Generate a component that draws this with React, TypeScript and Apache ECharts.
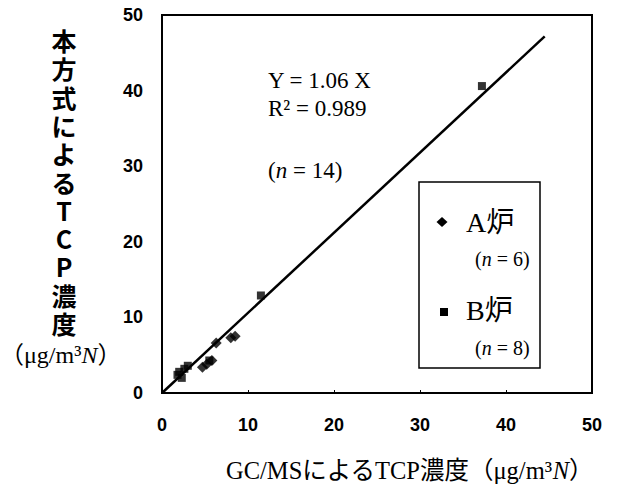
import React, { useEffect, useRef } from "react";
import * as echarts from "echarts";

// GC/MS value (x) vs this method value (y), µg/m3N
const furnaceA_x = [8.0, 8.5, 6.3, 4.7, 5.2, 5.8];
const furnaceA_y = [7.3, 7.5, 6.6, 3.4, 3.8, 4.3];
const furnaceB_x = [37.2, 11.5, 3.0, 2.0, 2.3, 1.8, 5.5, 2.6];
const furnaceB_y = [40.6, 12.9, 3.6, 2.8, 2.0, 2.4, 4.3, 3.2];
const SLOPE = 1.06;
const LINE_END_X = 44.5;
const AXIS_TICKS = [0, 10, 20, 30, 40, 50];
const Y_TITLE_CHARS = ["本", "方", "式", "に", "よ", "る", "T", "C", "P", "濃", "度"];

const SERIF = '"Liberation Serif", "Noto Sans CJK JP", serif';
const SANS = '"Liberation Sans", Arial, sans-serif';
const CJK = '"Noto Sans CJK JP", "Liberation Sans", sans-serif';

const serif = (size: number, italic = false) =>
  `${italic ? "italic " : ""}${size}px ${SERIF}`;

function richText(x: number, y: number, text: string, size: number, z = 5) {
  return {
    type: "text",
    x,
    y,
    z,
    style: {
      text,
      verticalAlign: "middle",
      align: "left",
      font: serif(size),
      rich: {
        a: { font: serif(size), fill: "#000" },
        i: { font: serif(size, true), fill: "#000" },
      },
      fill: "#000",
    },
  };
}

export default function App() {
  const ref = useRef<HTMLDivElement>(null);
  useEffect(() => {
    if (!ref.current) return;
    const chart = echarts.init(ref.current, undefined, { renderer: "svg" });
    const aData = furnaceA_x.map((x, i) => [x, furnaceA_y[i]]);
    const bData = furnaceB_x.map((x, i) => [x, furnaceB_y[i]]);
    const lineData = [
      [0, 0],
      [LINE_END_X, SLOPE * LINE_END_X],
    ];
    const yTitle = Y_TITLE_CHARS.map((ch, i) => ({
      type: "text",
      x: 64,
      y: 40 + i * 28.3,
      style: {
        text: ch,
        font: `bold 25px ${CJK}`,
        fill: "#000",
        align: "center",
        verticalAlign: "middle",
      },
    }));
    chart.setOption({
      animation: false,
      backgroundColor: "#fff",
      grid: {
        left: 162,
        top: 15,
        width: 430,
        height: 378,
        show: true,
        borderColor: "#000",
        borderWidth: 2,
        backgroundColor: "transparent",
      },
      xAxis: {
        type: "value",
        min: AXIS_TICKS[0],
        max: AXIS_TICKS[AXIS_TICKS.length - 1],
        interval: 10,
        splitLine: { show: false },
        axisLine: { show: true, lineStyle: { color: "#000", width: 2 } },
        axisTick: { show: true, inside: true, length: 3, lineStyle: { color: "#000" } },
        axisLabel: {
          margin: 23,
          color: "#000",
          fontFamily: SANS,
          fontWeight: "bold",
          fontSize: 18,
        },
      },
      yAxis: {
        type: "value",
        min: AXIS_TICKS[0],
        max: AXIS_TICKS[AXIS_TICKS.length - 1],
        interval: 10,
        splitLine: { show: false },
        axisLine: { show: true, lineStyle: { color: "#000", width: 2 } },
        axisTick: { show: false },
        axisLabel: {
          margin: 19,
          color: "#000",
          fontFamily: SANS,
          fontWeight: "bold",
          fontSize: 18,
          padding: [8, 0, 0, 0],
        },
      },
      series: [
        {
          type: "line",
          data: lineData,
          showSymbol: false,
          symbol: "none",
          lineStyle: { color: "#000", width: 2.5 },
          z: 3,
        },
        {
          type: "scatter",
          name: "A炉",
          data: aData,
          symbol: "diamond",
          symbolSize: [11, 11],
          itemStyle: { color: "#000" },
          z: 4,
        },
        {
          type: "scatter",
          name: "B炉",
          data: bData,
          symbol: "rect",
          symbolSize: 8,
          itemStyle: { color: "#000" },
          z: 4,
        },
      ],
      graphic: [
        ...yTitle,
        richText(0, 355, "{a|（μg/m³}{i|N}{a|）}", 24),
        richText(226, 470, "{a|GC/MSによるTCP濃度（μg/m³}{i|N}{a|）}", 24.5),
        richText(268, 80, "{a|Y = 1.06 X}", 23),
        richText(268, 108, "{a|R² = 0.989}", 23),
        richText(268, 170, "{a|(}{i|n}{a| = 14)}", 23),
        {
          type: "rect",
          shape: { x: 419, y: 182, width: 121, height: 186 },
          style: { fill: "#fff", stroke: "#000", lineWidth: 1.5 },
          z: 10,
        },
        {
          type: "polygon",
          shape: { points: [[442, 217], [447.5, 222], [442, 227], [436.5, 222]] },
          style: { fill: "#000" },
          z: 11,
        },
        {
          type: "rect",
          shape: { x: 440, y: 308, width: 8, height: 8 },
          style: { fill: "#000" },
          z: 11,
        },
        richText(466, 222, "{a|A炉}", 28, 11),
        richText(466, 310, "{a|B炉}", 28, 11),
        richText(475, 259, "{a|(}{i|n}{a| = 6)}", 20, 11),
        richText(475, 348, "{a|(}{i|n}{a| = 8)}", 20, 11),
      ],
    });
    return () => chart.dispose();
  }, []);
  return (
    <div
      ref={ref}
      style={{ position: "fixed", left: 0, top: 0, width: 618, height: 500 }}
    />
  );
}
